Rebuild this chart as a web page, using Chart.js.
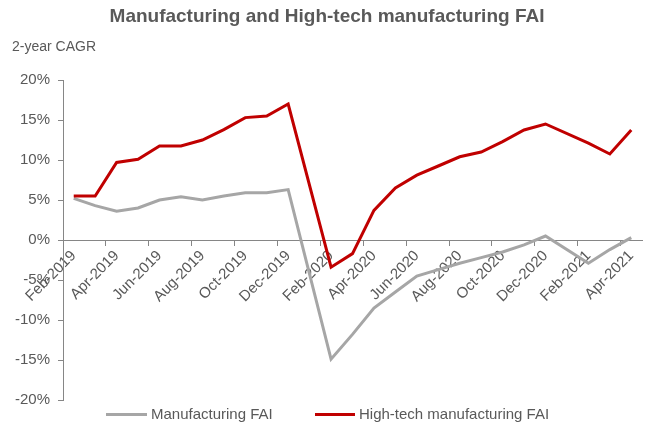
<!DOCTYPE html>
<html>
<head>
<meta charset="utf-8">
<script src="https://cdn.jsdelivr.net/npm/chart.js@4"></script>
<style>
  body { margin: 0; background: #fff; }
  #wrap { position: relative; width: 656px; height: 429px; }
  .key { position: absolute; top: 405px; height: 20px; line-height: 20px; font: 15px "Liberation Sans", Arial, sans-serif; color: #595959; white-space: nowrap; }
  .key span { display: inline-block; vertical-align: middle; height: 3px; margin-right: 4px; margin-top: -2px; }
</style>
</head>
<body>
<div id="wrap">
  <canvas id="myChart" width="656" height="429"></canvas>
  <div class="key" style="left:106px"><span style="width:41px;background:#A6A6A6"></span>Manufacturing FAI</div>
  <div class="key" style="left:315px"><span style="width:40px;background:#C00000"></span>High-tech manufacturing FAI</div>
</div>
<script>
// months Feb-2019 .. Apr-2021, January has no release (null)
const months = [
  "Feb-2019", "Mar-2019", "Apr-2019", "May-2019", "Jun-2019", "Jul-2019", "Aug-2019",
  "Sep-2019", "Oct-2019", "Nov-2019", "Dec-2019", "Jan-2020", "Feb-2020", "Mar-2020",
  "Apr-2020", "May-2020", "Jun-2020", "Jul-2020", "Aug-2020", "Sep-2020", "Oct-2020",
  "Nov-2020", "Dec-2020", "Jan-2021", "Feb-2021", "Mar-2021", "Apr-2021"
];

const manufacturing = [
  5.2, 4.3, 3.6, 4.0, 5.0, 5.4, 5.0, 5.5, 5.9, 5.9, 6.3, null,
  -14.9, -11.8, -8.5, -6.5, -4.5, -3.7, -2.9, -2.2, -1.5, -0.6, 0.5, null,
  -2.9, -1.2, 0.3
];

const highTech = [
  5.5, 5.5, 9.7, 10.1, 11.75, 11.75, 12.5, 13.8, 15.3, 15.5, 17.0, null,
  -3.4, -1.7, 3.7, 6.5, 8.1, 9.25, 10.4, 11.0, 12.3, 13.75, 14.5, null,
  12.1, 10.75, 13.75
];

const yTicks = [-20, -15, -10, -5, 0, 5, 10, 15, 20];

const axisGrey = '#868686';
const textGrey = '#595959';

const data = {
  labels: months,
  datasets: [
    {
      label: 'Manufacturing FAI',
      data: manufacturing,
      borderColor: '#A6A6A6',
      backgroundColor: '#A6A6A6',
      borderWidth: 3,
      pointRadius: 0,
      spanGaps: true,
      order: 1
    },
    {
      label: 'High-tech manufacturing FAI',
      data: highTech,
      borderColor: '#C00000',
      backgroundColor: '#C00000',
      borderWidth: 3,
      pointRadius: 0,
      spanGaps: true,
      order: 0
    }
  ]
};

const config = {
  type: 'line',
  data: data,
  options: {
    responsive: false,
    animation: false,
    layout: { padding: { left: 12, right: 14, top: 0, bottom: 29 } },
    plugins: {
      legend: { display: false },
      tooltip: { enabled: false },
      title: {
        display: true,
        text: 'Manufacturing and High-tech manufacturing FAI',
        color: textGrey,
        font: { family: '"Liberation Sans", Arial, sans-serif', size: 19, weight: 'bold' },
        padding: { top: 5.6, bottom: 4 }
      },
      subtitle: {
        display: true,
        text: '2-year CAGR',
        align: 'start',
        color: textGrey,
        font: { family: '"Liberation Sans", Arial, sans-serif', size: 14 },
        padding: { top: 6.2, bottom: 24.6 }
      }
    },
    scales: {
      x: {
        position: { y: 0 },
        offset: true,
        grid: {
          offset: true,
          drawOnChartArea: false,
          drawTicks: true,
          tickLength: 5,
          color: ctx => (ctx.index !== undefined && ctx.index % 2 === 0) ? axisGrey : 'rgba(0,0,0,0)'
        },
        border: { color: axisGrey, width: 1 },
        ticks: {
          autoSkip: false,
          minRotation: 45,
          maxRotation: 45,
          padding: 2,
          color: textGrey,
          font: { family: '"Liberation Sans", Arial, sans-serif', size: 15 },
          callback: (v, i) => i % 2 === 0 ? months[i] : ''
        }
      },
      y: {
        min: yTicks[0],
        max: yTicks[yTicks.length - 1],
        afterFit: s => { s.width = 51; },
        afterBuildTicks: s => { s.ticks = yTicks.map(v => ({ value: v })); },
        grid: {
          drawOnChartArea: false,
          drawTicks: true,
          tickLength: 5,
          color: axisGrey
        },
        border: { color: axisGrey, width: 1 },
        ticks: {
          padding: 8,
          color: textGrey,
          font: { family: '"Liberation Sans", Arial, sans-serif', size: 15 },
          callback: v => v + '%'
        }
      }
    }
  }
};

const myChart = new Chart(document.getElementById('myChart'), config);
</script>
</body>
</html>
